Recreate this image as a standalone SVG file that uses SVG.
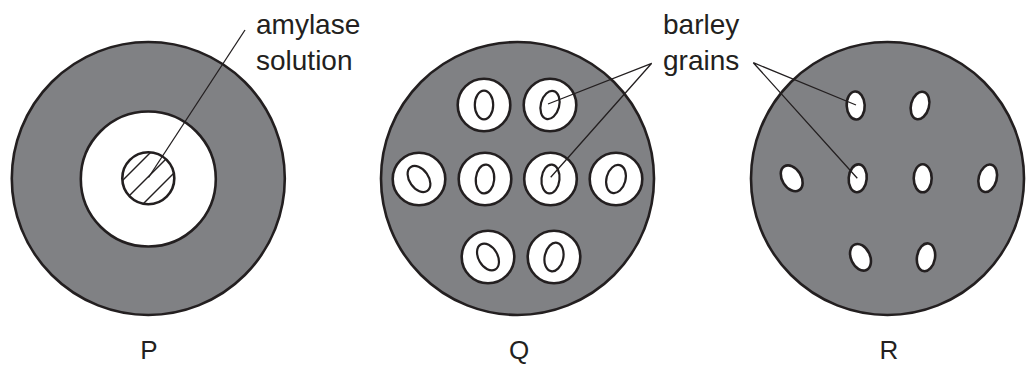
<svg xmlns="http://www.w3.org/2000/svg" width="1026" height="365" viewBox="0 0 1026 365">
<style>
.plate{fill:#808184;stroke:#231f20;stroke-width:2.6}
.well{fill:#fff;stroke:#231f20;stroke-width:2.6}
.grain{fill:#fff;stroke:#231f20;stroke-width:2.2}
.hole{fill:#fff;stroke:#231f20;stroke-width:2.6}
.lead{fill:none;stroke:#231f20;stroke-width:1.3}
.hatch{fill:none;stroke:#231f20;stroke-width:1.4}
text{font-family:"Liberation Sans",Arial,sans-serif;fill:#231f20}
.lbl{font-size:28px}
.cap{font-size:26px;text-anchor:middle}
</style>
<defs>
<clipPath id="hc"><circle cx="148.3" cy="178.3" r="26"/></clipPath>
</defs>
<rect width="1026" height="365" fill="#fff"/>
<g id="P">
<circle class="plate" cx="148.3" cy="178.5" r="136.5"/>
<circle class="well" cx="148.3" cy="179" r="67.5"/>
<circle fill="#fff" cx="148.3" cy="178.3" r="26"/>
<g clip-path="url(#hc)">
<line class="hatch" x1="110" y1="193" x2="190" y2="113"/>
<line class="hatch" x1="110" y1="215" x2="190" y2="135"/>
<line class="hatch" x1="110" y1="237" x2="190" y2="157"/>
</g>
<circle fill="none" stroke="#231f20" stroke-width="2.6" cx="148.3" cy="178.3" r="26"/>
</g>
<g id="Q">
<circle class="plate" cx="517.5" cy="178.5" r="136.5"/>
<circle class="well" cx="484" cy="105" r="26.3"/>
<ellipse class="grain" cx="484" cy="105" rx="9.2" ry="14.3"/>
<circle class="well" cx="550" cy="105" r="26.3"/>
<ellipse class="grain" cx="550" cy="105" rx="9.2" ry="14.3" transform="rotate(15 550 105)"/>
<circle class="well" cx="419" cy="179" r="26.3"/>
<ellipse class="grain" cx="419" cy="179" rx="9.5" ry="14.5" transform="rotate(-35 419 179)"/>
<circle class="well" cx="485" cy="179" r="26.3"/>
<ellipse class="grain" cx="485" cy="179" rx="9.2" ry="14.5" transform="rotate(5 485 179)"/>
<circle class="well" cx="550.5" cy="179" r="26.3"/>
<ellipse class="grain" cx="550.5" cy="179" rx="9" ry="14.5" transform="rotate(6 550.5 179)"/>
<circle class="well" cx="616" cy="179" r="26.3"/>
<ellipse class="grain" cx="616" cy="179" rx="9.5" ry="14.3" transform="rotate(15 616 179)"/>
<circle class="well" cx="488" cy="257" r="26.3"/>
<ellipse class="grain" cx="488" cy="257" rx="9.5" ry="14.5" transform="rotate(-30 488 257)"/>
<circle class="well" cx="554" cy="257" r="26.3"/>
<ellipse class="grain" cx="554" cy="257" rx="9.3" ry="14.5" transform="rotate(12 554 257)"/>
</g>
<g id="R">
<circle class="plate" cx="887.5" cy="178.5" r="136.5"/>
<ellipse class="hole" cx="855.7" cy="105.5" rx="9" ry="14" transform="rotate(-3 855.7 105.5)"/>
<ellipse class="hole" cx="920" cy="105.5" rx="9" ry="14" transform="rotate(15 920 105.5)"/>
<ellipse class="hole" cx="791.7" cy="178.3" rx="9.5" ry="14" transform="rotate(-32 791.7 178.3)"/>
<ellipse class="hole" cx="857.7" cy="178.3" rx="9" ry="14" transform="rotate(5 857.7 178.3)"/>
<ellipse class="hole" cx="922.7" cy="178.3" rx="9" ry="14"/>
<ellipse class="hole" cx="987.7" cy="178.3" rx="9" ry="14" transform="rotate(15 987.7 178.3)"/>
<ellipse class="hole" cx="860.5" cy="257.3" rx="9.5" ry="14" transform="rotate(-25 860.5 257.3)"/>
<ellipse class="hole" cx="926" cy="257.3" rx="9" ry="14" transform="rotate(10 926 257.3)"/>
</g>
<g id="connectors">
<polyline class="lead" points="245,30 148.5,177.5"/>
<polyline class="lead" points="548,104 651.7,63.3 550.7,177.3"/>
<polyline class="lead" points="856,105 753.3,62.7 857.3,178.3"/>
</g>
<g id="labels">
<text class="lbl" x="256" y="34">amylase</text>
<text class="lbl" x="256" y="70">solution</text>
<text class="lbl" x="663" y="34">barley</text>
<text class="lbl" x="663" y="70">grains</text>
<text class="cap" x="149" y="359">P</text>
<text class="cap" x="519" y="359">Q</text>
<text class="cap" x="889" y="359">R</text>
</g>
</svg>
